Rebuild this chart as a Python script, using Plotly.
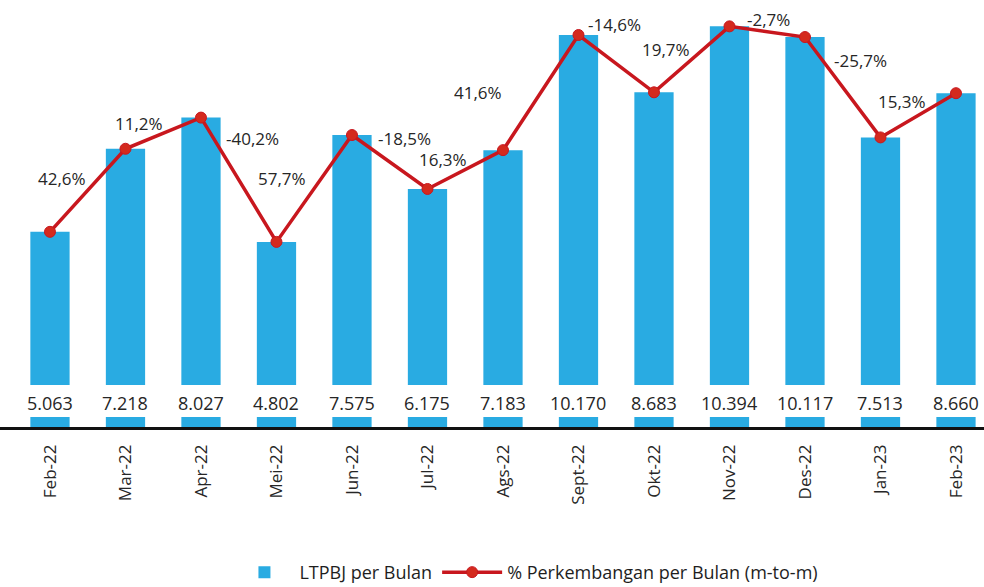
import plotly.graph_objects as go

months = ["Feb-22", "Mar-22", "Apr-22", "Mei-22", "Jun-22", "Jul-22", "Ags-22",
          "Sept-22", "Okt-22", "Nov-22", "Des-22", "Jan-23", "Feb-23"]
ltpbj = [5063, 7218, 8027, 4802, 7575, 6175, 7183, 10170, 8683, 10394, 10117, 7513, 8660]
growth_pct = [42.6, 11.2, -40.2, 57.7, -18.5, 16.3, 41.6, -14.6, 19.7, -2.7, -25.7, 15.3]

# pixel offsets of growth labels from each segment midpoint (style only)
label_dx = [-26, -24, 14, -32, 15, -22, -63, -2, -26, 1, 18, -16]
label_dy = [12, 10, 41, 10, 24, 10, 0, 39, 10, 12, 27, 14]

FONT = "Open Sans"
TXT = "#262626"
BAR = "#29ABE2"
RED = "#C8171E"

def fmt_int(v):
    return f"{v:,}".replace(",", ".")

def fmt_pct(p):
    return f"{p:.1f}".replace(".", ",") + "%"

x_idx = list(range(len(months)))

fig = go.Figure()
fig.add_trace(go.Bar(
    x=x_idx, y=ltpbj, name="LTPBJ per Bulan",
    marker=dict(color=BAR, line=dict(width=0)),
    width=0.52, hoverinfo="skip",
))
fig.add_trace(go.Scatter(
    x=x_idx, y=ltpbj, name="% Perkembangan per Bulan (m-to-m)",
    mode="lines+markers",
    line=dict(color=RED, width=3.5),
    marker=dict(color="#D42A1E", size=11, line=dict(color=RED, width=1)),
    hoverinfo="skip",
))

annotations = []
# value labels inside white band near the base
for i, v in enumerate(ltpbj):
    annotations.append(dict(
        x=i, y=623, xref="x", yref="y", text=fmt_int(v), showarrow=False,
        font=dict(family=FONT, size=18, color=TXT), xanchor="center", yanchor="middle",
    ))
# growth labels
for k, p in enumerate(growth_pct):
    annotations.append(dict(
        x=k + 0.5, y=(ltpbj[k] + ltpbj[k + 1]) / 2, xref="x", yref="y",
        text=fmt_pct(p), showarrow=False,
        xshift=label_dx[k], yshift=label_dy[k],
        font=dict(family=FONT, size=17, color=TXT), xanchor="center", yanchor="middle",
    ))

shapes = [dict(
    type="rect", xref="paper", yref="y", x0=0, x1=1, y0=259, y1=1089,
    fillcolor="white", line=dict(width=0), layer="above",
)]

fig.update_layout(
    width=984, height=587,
    margin=dict(l=0, r=0, t=3, b=160, autoexpand=False),
    paper_bgcolor="white", plot_bgcolor="white",
    font=dict(family=FONT, size=17, color=TXT),
    showlegend=True,
    legend=dict(
        orientation="h", x=0.535, xanchor="center", y=-0.343, yanchor="middle",
        font=dict(family=FONT, size=18, color="#1e1e1e"),
        itemwidth=60, traceorder="normal", bgcolor="rgba(0,0,0,0)",
    ),
    xaxis=dict(
        range=[-0.662, 12.371],
        tickmode="array", tickvals=x_idx, ticktext=months,
        tickangle=-90, showgrid=False, zeroline=False,
        showline=True, linecolor="#111111", linewidth=2.5,
        ticks="", ticklabelstandoff=8,
        tickfont=dict(family=FONT, size=17, color=TXT),
        fixedrange=True,
    ),
    yaxis=dict(
        range=[0, 11000], visible=False, showgrid=False, zeroline=False,
        fixedrange=True,
    ),
    annotations=annotations,
    shapes=shapes,
)

fig.write_html("out.html")
